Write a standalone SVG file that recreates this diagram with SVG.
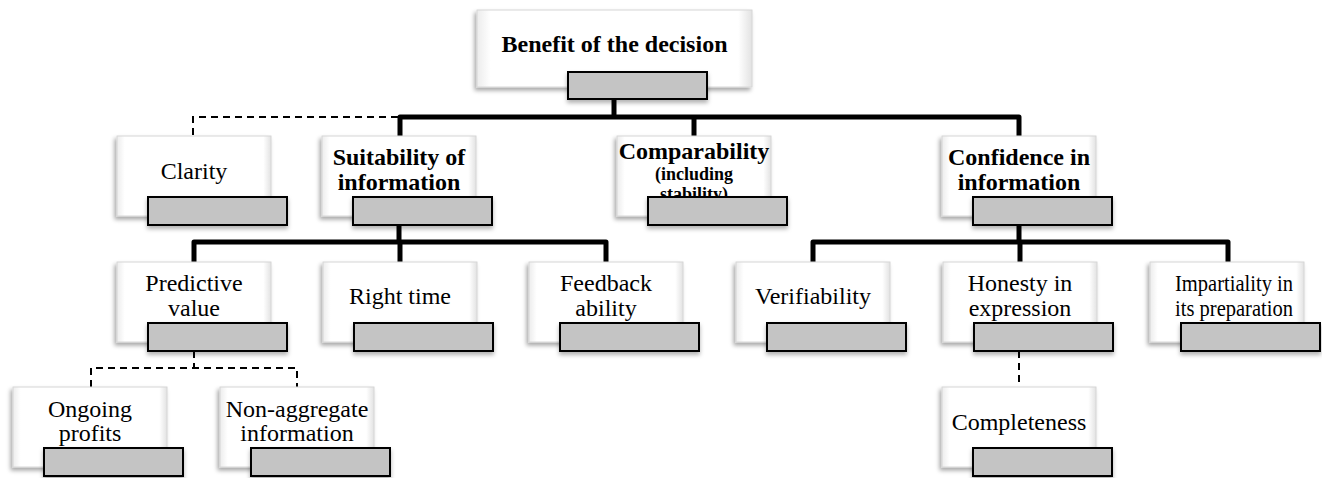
<svg xmlns="http://www.w3.org/2000/svg" width="1322" height="478" viewBox="0 0 1322 478">
<style>
.box{fill:url(#bg);stroke:#d6d6d6;stroke-width:1;filter:url(#sh)}
.bar{fill:#c4c4c4;stroke:#000;stroke-width:2;filter:url(#sh2)}
text{font-family:"Liberation Serif","Times New Roman",serif;font-size:24px;text-anchor:middle;fill:#000}
.b{font-weight:bold}
.s{font-size:18px}
.solid{fill:none;stroke:#000;stroke-width:5;stroke-linejoin:round}
.dash{fill:none;stroke:#000;stroke-width:2;stroke-dasharray:7 5}
</style>
<defs>
<linearGradient id="bg" x1="0" y1="0" x2="1" y2="0">
<stop offset="0" stop-color="#ececec"/>
<stop offset="0.05" stop-color="#ffffff"/>
<stop offset="0.95" stop-color="#ffffff"/>
<stop offset="1" stop-color="#e2e2e2"/>
</linearGradient>
<filter id="sh" x="-10%" y="-10%" width="125%" height="135%">
<feDropShadow dx="-2" dy="3" stdDeviation="2" flood-color="#000" flood-opacity="0.35"/>
</filter>
<filter id="sh2" x="-10%" y="-20%" width="125%" height="160%">
<feDropShadow dx="0" dy="3" stdDeviation="2" flood-color="#000" flood-opacity="0.3"/>
</filter>
</defs>
<rect width="1322" height="478" fill="#fff"/>
<g id="connectors">
<path class="dash" d="M398,117 H193 V136"/>
<path class="solid" d="M614,99 V117"/>
<path class="solid" d="M400,136 V117 H1019 V136"/>
<path class="solid" d="M694,117 V136"/>
<path class="solid" d="M399,224 V242"/>
<path class="solid" d="M194,262 V242 H606 V262"/>
<path class="solid" d="M400,242 V262"/>
<path class="solid" d="M1019,224 V242"/>
<path class="solid" d="M813,262 V242 H1228 V262"/>
<path class="solid" d="M1020,242 V262"/>
<path class="dash" d="M194,351 V368"/>
<path class="dash" d="M91,387 V368 H297 V387"/>
<path class="dash" d="M1019,351 V387"/>
</g>
<g id="n-benefit" transform="translate(477,10)">
<rect class="box" width="275" height="77"/>
<text class="b" x="137.5" y="42">Benefit of the decision</text>
<rect class="bar" x="91" y="62" width="139" height="27"/>
</g>
<g id="n-clarity" transform="translate(117,136)">
<rect class="box" width="154" height="80"/>
<text x="77" y="43">Clarity</text>
<rect class="bar" x="31" y="61" width="139" height="28"/>
</g>
<g id="n-suitability" transform="translate(322,136)">
<rect class="box" width="154" height="80"/>
<text class="b" x="77" y="29">Suitability of</text>
<text class="b" x="77" y="54">information</text>
<rect class="bar" x="31" y="61" width="139" height="28"/>
</g>
<g id="n-comparability" transform="translate(617,136)">
<rect class="box" width="154" height="80"/>
<text class="b" x="77" y="23">Comparability</text>
<text class="b s" x="77" y="44">(including</text>
<text class="b s" x="77" y="64">stability)</text>
<rect class="bar" x="31" y="61" width="139" height="28"/>
</g>
<g id="n-confidence" transform="translate(942,136)">
<rect class="box" width="154" height="80"/>
<text class="b" x="77" y="29">Confidence in</text>
<text class="b" x="77" y="54">information</text>
<rect class="bar" x="31" y="61" width="139" height="28"/>
</g>
<g id="n-predictive" transform="translate(117,262)">
<rect class="box" width="154" height="80"/>
<text x="77" y="29">Predictive</text>
<text x="77" y="54">value</text>
<rect class="bar" x="31" y="61" width="139" height="28"/>
</g>
<g id="n-righttime" transform="translate(323,262)">
<rect class="box" width="154" height="80"/>
<text x="77" y="42">Right time</text>
<rect class="bar" x="31" y="61" width="139" height="28"/>
</g>
<g id="n-feedback" transform="translate(529,262)">
<rect class="box" width="154" height="80"/>
<text x="77" y="29">Feedback</text>
<text x="77" y="54">ability</text>
<rect class="bar" x="31" y="61" width="139" height="28"/>
</g>
<g id="n-verifiability" transform="translate(736,262)">
<rect class="box" width="154" height="80"/>
<text x="77" y="42">Verifiability</text>
<rect class="bar" x="31" y="61" width="139" height="28"/>
</g>
<g id="n-honesty" transform="translate(943,262)">
<rect class="box" width="154" height="80"/>
<text x="77" y="29">Honesty in</text>
<text x="77" y="54">expression</text>
<rect class="bar" x="31" y="61" width="139" height="28"/>
</g>
<g id="n-impartiality" transform="translate(1150,262)">
<rect class="box" width="154" height="80"/>
<text x="84" y="29" textLength="118" lengthAdjust="spacingAndGlyphs">Impartiality in</text>
<text x="84" y="54" textLength="118" lengthAdjust="spacingAndGlyphs">its preparation</text>
<rect class="bar" x="31" y="61" width="139" height="28"/>
</g>
<g id="n-ongoing" transform="translate(13,387)">
<rect class="box" width="154" height="80"/>
<text x="77" y="30">Ongoing</text>
<text x="77" y="54">profits</text>
<rect class="bar" x="31" y="61" width="139" height="28"/>
</g>
<g id="n-nonaggregate" transform="translate(220,387)">
<rect class="box" width="154" height="80"/>
<text x="77" y="30">Non-aggregate</text>
<text x="77" y="54">information</text>
<rect class="bar" x="31" y="61" width="139" height="28"/>
</g>
<g id="n-completeness" transform="translate(942,387)">
<rect class="box" width="154" height="80"/>
<text x="77" y="43">Completeness</text>
<rect class="bar" x="31" y="61" width="139" height="28"/>
</g>
</svg>
